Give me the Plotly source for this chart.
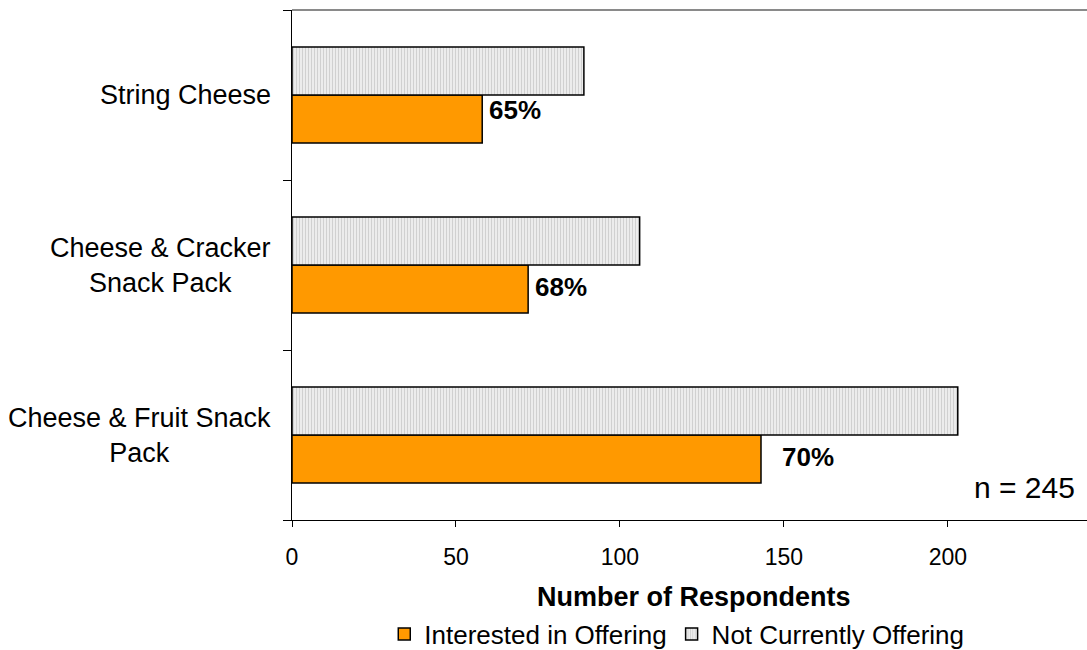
import plotly.graph_objects as go

categories = ["Cheese & Fruit Snack Pack", "Cheese & Cracker Snack Pack", "String Cheese"]
category_labels = ["Cheese & Fruit Snack<br>Pack", "Cheese & Cracker<br>Snack Pack", "String Cheese"]
interested = [143, 72, 58]
not_offering = [203, 106, 89]
pct_labels = ["70%", "68%", "65%"]
pct_xshift = [19, 5, 5]
pct_yshift = [-22, -22, -15]
x_ticks = [0, 50, 100, 150, 200]
sample_note = "n = 245"

FONT = "Liberation Sans, Arial, sans-serif"
ORANGE = "#FF9900"

fig = go.Figure()
fig.add_trace(go.Bar(
    y=categories, x=interested, orientation="h", name="Interested in Offering",
    marker=dict(color=ORANGE, line=dict(color="black", width=1.5)),
))
fig.add_trace(go.Bar(
    y=categories, x=not_offering, orientation="h", name="Not Currently Offering",
    marker=dict(color="#ececec", line=dict(color="black", width=1.5),
                pattern=dict(shape="|", bgcolor="#ececec", fgcolor="#b4b4b4", size=3, solidity=0.35)),
))

for cat, lab in zip(categories, category_labels):
    fig.add_annotation(x=0, xref="paper", y=cat, text=lab, showarrow=False,
                       xanchor="right", yanchor="middle", xshift=-19, align="center",
                       font=dict(family=FONT, size=27, color="black"))

for cat, val, lab, xs, ys in zip(categories, interested, pct_labels, pct_xshift, pct_yshift):
    fig.add_annotation(x=val, y=cat, text="<b>%s</b>" % lab, showarrow=False,
                       xanchor="left", yanchor="middle", xshift=xs, yshift=ys,
                       font=dict(family=FONT, size=26, color="black"))

fig.add_annotation(x=0.9875, y=0.063, xref="paper", yref="paper", text=sample_note,
                   showarrow=False, xanchor="right", yanchor="middle",
                   font=dict(family=FONT, size=30, color="black"))
fig.add_annotation(x=0.506, y=-0.151, xref="paper", yref="paper",
                   text="<b>Number of Respondents</b>", showarrow=False,
                   xanchor="center", yanchor="middle",
                   font=dict(family=FONT, size=27, color="black"))

fig.add_shape(type="line", xref="paper", yref="paper", x0=0, x1=1, y0=1, y1=1,
              line=dict(color="#8a8a8a", width=2))

fig.update_layout(
    width=1087, height=650,
    margin=dict(l=292, r=0, t=10, b=130, autoexpand=False),
    paper_bgcolor="white", plot_bgcolor="white",
    barmode="group", bargap=0.435, bargroupgap=0,
    font=dict(family=FONT, color="black"),
    showlegend=True,
    legend=dict(orientation="h", x=0.484, y=-0.2235, xanchor="center", yanchor="middle",
                font=dict(family=FONT, size=26, color="black"), traceorder="normal",
                itemwidth=30),
    xaxis=dict(range=[0, 242.4], tickvals=x_ticks, ticks="outside", ticklen=6,
               tickcolor="black", showline=True, linecolor="black", linewidth=1,
               showgrid=False, zeroline=False, tickfont=dict(size=23, color="black"),
               ticklabelstandoff=10),
    yaxis=dict(categoryorder="array", categoryarray=categories, tickson="boundaries",
               ticks="outside", ticklen=8, tickcolor="black", showline=True,
               linecolor="black", linewidth=1, showgrid=False, showticklabels=False),
)

fig.write_html("out.html")
